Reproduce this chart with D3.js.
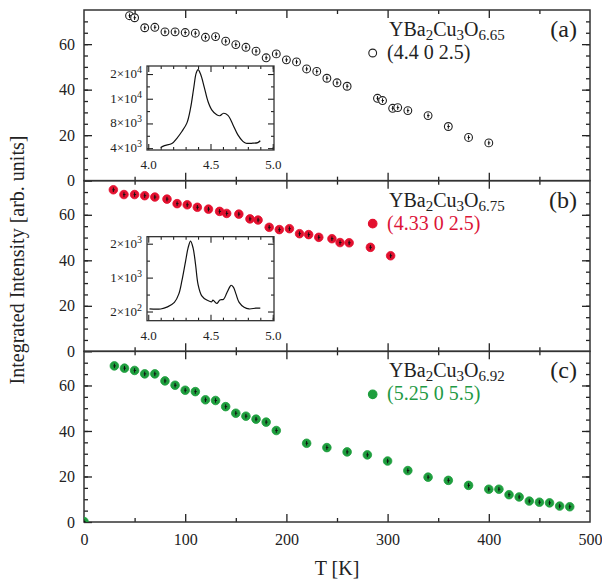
<!DOCTYPE html>
<html>
<head>
<meta charset="utf-8">
<script src="https://cdn.jsdelivr.net/npm/d3@7"></script>
<style>
    body { margin: 0; background: #fff; }
    text { font-family: "Liberation Serif", "Times New Roman", serif; fill: #222; }
</style>
</head>
<body>
<svg id="chart" width="602" height="579"></svg>
<script>
// ---- data ----
var tempA = [45, 50, 60, 70, 80, 90, 100, 110, 120, 130, 140, 150, 160, 170, 180, 190, 200, 210, 220, 230, 240, 250, 260, 290, 295, 305, 310, 320, 340, 360, 380, 400];
var intA  = [72.5, 71.6, 67.2, 67.4, 65.4, 65.4, 65.1, 64.8, 63.0, 63.3, 61.3, 59.8, 58.6, 56.9, 54.0, 55.7, 53.1, 52.2, 49.1, 48.0, 45.0, 43.0, 41.5, 36.2, 35.2, 31.8, 32.1, 30.8, 28.6, 23.8, 19.0, 16.6];

var tempB = [29, 39.5, 50, 60, 70, 82, 92, 102, 112, 123, 134, 141, 153, 164, 172, 183, 193, 203, 213, 222, 232, 245, 253, 262, 283, 303];
var intB  = [71.0, 68.9, 68.9, 68.4, 67.8, 66.9, 64.9, 64.4, 63.3, 62.5, 61.5, 60.6, 60.3, 58.2, 57.7, 54.5, 53.5, 53.9, 51.7, 51.3, 50.1, 49.5, 47.8, 47.7, 45.7, 42.0];

var tempC = [0, 30, 40, 50, 60, 70, 80, 90, 100, 110, 120, 130, 140, 150, 160, 170, 180, 190, 220, 240, 260, 280, 300, 320, 340, 360, 380, 400, 410, 420, 430, 440, 450, 460, 470, 480];
var intC  = [0.2, 68.6, 67.6, 66.6, 65.1, 65.1, 62.0, 60.1, 57.9, 57.3, 53.7, 53.4, 50.7, 47.8, 46.5, 45.2, 43.9, 40.2, 34.6, 32.7, 30.8, 29.5, 26.8, 22.6, 19.7, 18.3, 16.1, 14.4, 14.4, 12.0, 11.0, 9.2, 8.7, 8.4, 7.0, 6.7];

var errBar = 1.0;   // error bar half-length, arb. units

// inset scans (H along (H 0 L), counts)
var scanAq = [4.10, 4.13, 4.19, 4.23, 4.27, 4.31, 4.34, 4.365, 4.385, 4.40, 4.42, 4.45, 4.48, 4.51, 4.55, 4.575, 4.605, 4.64, 4.68, 4.72, 4.76, 4.785, 4.84, 4.88, 4.90];
var scanAc = [4100, 4400, 4750, 5600, 6700, 8050, 10500, 13700, 16150, 16700, 16000, 13850, 11550, 10200, 9400, 9250, 9650, 9300, 7800, 6150, 5100, 4800, 4800, 4900, 5200];
var scanBq = [4.01, 4.10, 4.155, 4.21, 4.245, 4.27, 4.30, 4.32, 4.34, 4.36, 4.38, 4.40, 4.43, 4.47, 4.51, 4.52, 4.55, 4.575, 4.605, 4.63, 4.655, 4.665, 4.685, 4.705, 4.73, 4.77, 4.81, 4.865, 4.90];
var scanBc = [260, 260, 310, 415, 610, 920, 1390, 1700, 1860, 1700, 1310, 840, 570, 470, 430, 470, 390, 470, 490, 630, 780, 820, 770, 610, 415, 300, 260, 280, 280];

var insetATicks  = [4000, 8000, 12000, 16000];
var insetALabels = [["4", "3"], ["8", "3"], ["1", "4"], ["2", "4"]];
var insetBTicks  = [200, 1000, 1800];
var insetBLabels = [["2", "2"], ["1", "3"], ["2", "3"]];
var qTicks = [4.0, 4.5, 5.0];

var panels = [
    {tag: "(a)", sub: "6.65", hkl: "(4.4 0 2.5)",  color: "#222",    fill: "#fff",    open: true,  t: tempA, v: intA},
    {tag: "(b)", sub: "6.75", hkl: "(4.33 0 2.5)", color: "#dc1438", fill: "#e3102f", open: false, t: tempB, v: intB},
    {tag: "(c)", sub: "6.92", hkl: "(5.25 0 5.5)", color: "#1f9a45", fill: "#1e9e3e", open: false, t: tempC, v: intC}
];

// ---- layout ----
var mLeft = 84, mRight = 590, mTop = 10, mBottom = 522;
var ph = (mBottom - mTop) / 3;

var svg = d3.select("#chart");

var x = d3.scaleLinear().domain([0, 500]).range([mLeft, mRight]);

panels.forEach(function(p, i) {
    var y0 = mTop + i * ph;
    var y = d3.scaleLinear().domain([0, 75]).range([y0 + ph, y0]);
    var g = svg.append("g");

    // minor ticks every 5 / 50
    g.append("g").attr("transform", "translate(" + mLeft + ",0)")
        .call(d3.axisLeft(y).tickValues(d3.range(5, 75, 5)).tickSize(-4).tickFormat(""));
    g.append("g").attr("transform", "translate(" + mRight + ",0)")
        .call(d3.axisRight(y).tickValues(d3.range(5, 75, 5)).tickSize(-4).tickFormat(""));
    g.append("g").attr("transform", "translate(0," + (y0 + ph) + ")")
        .call(d3.axisBottom(x).tickValues([50, 150, 250, 350, 450]).tickSize(-4).tickFormat(""));
    g.append("g").attr("transform", "translate(0," + y0 + ")")
        .call(d3.axisTop(x).tickValues([50, 150, 250, 350, 450]).tickSize(-4).tickFormat(""));

    // major ticks
    g.append("g").attr("class", "ylab").attr("transform", "translate(" + mLeft + ",0)")
        .call(d3.axisLeft(y).tickValues([0, 20, 40, 60]).tickSize(-8).tickPadding(9));
    g.append("g").attr("transform", "translate(" + mRight + ",0)")
        .call(d3.axisRight(y).tickValues([20, 40, 60]).tickSize(-8).tickFormat(""));
    g.append("g").attr("class", "xlab").attr("transform", "translate(0," + (y0 + ph) + ")")
        .call(d3.axisBottom(x).tickValues([100, 200, 300, 400]).tickSize(-8).tickPadding(12)
            .tickFormat(i == 2 ? d3.format("d") : ""));
    g.append("g").attr("transform", "translate(0," + y0 + ")")
        .call(d3.axisTop(x).tickValues([100, 200, 300, 400]).tickSize(-8).tickFormat(""));

    g.selectAll(".domain").remove();
    g.selectAll(".tick line").attr("stroke", "#222").attr("stroke-width", 1.3);
    g.selectAll(".ylab text").style("font-size", "16px").style("fill", "#222");

    if (i == 2) {
        // bottom labels incl. 0 and 500
        g.append("g").attr("class", "xlab2").attr("transform", "translate(0," + mBottom + ")")
            .call(d3.axisBottom(x).tickValues([0, 500]).tickSize(0).tickPadding(12).tickFormat(d3.format("d")))
            .select(".domain").remove();
        g.selectAll(".xlab text, .xlab2 text").style("font-size", "16px").style("fill", "#222");
    }

    // frame
    g.append("rect").attr("x", mLeft).attr("y", y0).attr("width", mRight - mLeft).attr("height", ph)
        .attr("fill", "none").attr("stroke", "#333").attr("stroke-width", 1.5);

    // data points
    var clipId = "clip" + i;
    svg.append("clipPath").attr("id", clipId).append("rect")
        .attr("x", mLeft).attr("y", y0).attr("width", mRight - mLeft).attr("height", ph);

    var pts = p.t.map(function(t, k) { return {t: t, v: p.v[k]}; });
    var dots = svg.append("g").attr("clip-path", "url(#" + clipId + ")")
        .selectAll("g.pt").data(pts).enter().append("g").attr("class", "pt");
    dots.append("circle")
        .attr("cx", function(d) { return x(d.t); })
        .attr("cy", function(d) { return y(d.v); })
        .attr("r", p.open ? 3.9 : 4.3)
        .attr("fill", p.fill)
        .attr("stroke", p.open ? "#222" : p.fill)
        .attr("stroke-width", p.open ? 1.1 : 0.8);
    dots.append("line")
        .attr("x1", function(d) { return x(d.t); })
        .attr("x2", function(d) { return x(d.t); })
        .attr("y1", function(d) { return y(d.v - errBar); })
        .attr("y2", function(d) { return y(d.v + errBar); })
        .attr("stroke", "#111").attr("stroke-width", 1);
    dots.append("line")
        .attr("x1", function(d) { return x(d.t) - 1; })
        .attr("x2", function(d) { return x(d.t) + 1.5; })
        .attr("y1", function(d) { return y(d.v); })
        .attr("y2", function(d) { return y(d.v); })
        .attr("stroke", "#111").attr("stroke-width", 1);

    // legend
    var lt = svg.append("text").attr("x", 389).attr("y", y0 + 26).style("font-size", "20px");
    lt.append("tspan").text("YBa");
    lt.append("tspan").attr("dy", 4).style("font-size", "15px").text("2");
    lt.append("tspan").attr("dy", -4).text("Cu");
    lt.append("tspan").attr("dy", 4).style("font-size", "15px").text("3");
    lt.append("tspan").attr("dy", -4).text("O");
    lt.append("tspan").attr("dy", 4).style("font-size", "15px").text(p.sub);

    svg.append("circle").attr("cx", 372.7).attr("cy", y0 + 43)
        .attr("r", p.open ? 3.9 : 4.3)
        .attr("fill", p.fill).attr("stroke", p.open ? "#222" : p.fill).attr("stroke-width", 1.1);
    svg.append("text").attr("x", 387).attr("y", y0 + 49).style("font-size", "20px")
        .style("fill", p.color).text(p.hkl);

    svg.append("text").attr("x", 577).attr("y", y0 + 27).attr("text-anchor", "end")
        .style("font-size", "24px").text(p.tag);
});

// ---- insets ----
function drawInset(y0, q, c, ydom, ticks, labels, minor) {
    var ix = d3.scaleLinear().domain([3.99, 5.01]).range([147, 274]);
    var iy = d3.scaleLinear().domain(ydom).range([y0 + 84, y0]);
    var g = svg.append("g");
    g.append("rect").attr("x", 147).attr("y", y0).attr("width", 127).attr("height", 84)
        .attr("fill", "#fff");

    g.append("g").attr("transform", "translate(147,0)")
        .call(d3.axisLeft(iy).tickValues(minor).tickSize(-3).tickFormat(""));
    g.append("g").attr("transform", "translate(274,0)")
        .call(d3.axisRight(iy).tickValues(minor).tickSize(-3).tickFormat(""));
    g.append("g").attr("transform", "translate(147,0)")
        .call(d3.axisLeft(iy).tickValues(ticks).tickSize(-6).tickFormat(""));
    g.append("g").attr("transform", "translate(274,0)")
        .call(d3.axisRight(iy).tickValues(ticks).tickSize(-6).tickFormat(""));
    var qMinor = d3.range(4.1, 5.0, 0.1).filter(function(v) { return Math.abs(v - 4.5) > 0.01; });
    g.append("g").attr("transform", "translate(0," + (y0 + 84) + ")")
        .call(d3.axisBottom(ix).tickValues(qMinor).tickSize(-3).tickFormat(""));
    g.append("g").attr("transform", "translate(0," + y0 + ")")
        .call(d3.axisTop(ix).tickValues(qMinor).tickSize(-3).tickFormat(""));
    g.append("g").attr("class", "qax").attr("transform", "translate(0," + (y0 + 84) + ")")
        .call(d3.axisBottom(ix).tickValues(qTicks).tickSize(-6).tickPadding(10).tickFormat(d3.format(".1f")));
    g.append("g").attr("transform", "translate(0," + y0 + ")")
        .call(d3.axisTop(ix).tickValues(qTicks).tickSize(-6).tickFormat(""));
    g.selectAll(".domain").remove();
    g.selectAll(".tick line").attr("stroke", "#222").attr("stroke-width", 1.1);
    g.selectAll(".qax text").style("font-size", "13px").style("fill", "#222");

    // y labels like 2x10^4
    ticks.forEach(function(tv, k) {
        var t = g.append("text").attr("x", 142).attr("y", iy(tv) + 4)
            .attr("text-anchor", "end").style("font-size", "13px");
        t.append("tspan").text(labels[k][0] + "\u00d710");
        t.append("tspan").attr("dy", -5).style("font-size", "10px").text(labels[k][1]);
    });

    var line = d3.line().x(function(d) { return ix(d[0]); }).y(function(d) { return iy(d[1]); })
        .curve(d3.curveCatmullRom);
    g.append("path").datum(q.map(function(v, k) { return [v, c[k]]; }))
        .attr("d", line).attr("fill", "none").attr("stroke", "#111").attr("stroke-width", 1.2);

    g.append("rect").attr("x", 147).attr("y", y0).attr("width", 127).attr("height", 84)
        .attr("fill", "none").attr("stroke", "#333").attr("stroke-width", 1.3);
}

drawInset(mTop + 56, scanAq, scanAc, [3700, 17300], insetATicks, insetALabels, [6000, 10000, 14000]);
drawInset(mTop + ph + 56, scanBq, scanBc, [-16, 1966], insetBTicks, insetBLabels, [600, 1400]);

// ---- axis titles ----
svg.append("text").attr("x", mLeft + (mRight - mLeft) / 2).attr("y", 575).attr("text-anchor", "middle")
    .style("font-size", "20px").text("T [K]");
svg.append("text").attr("transform", "translate(24,260) rotate(-90)")
    .attr("text-anchor", "middle").style("font-size", "20px").text("Integrated Intensity [arb. units]");
</script>
</body>
</html>
